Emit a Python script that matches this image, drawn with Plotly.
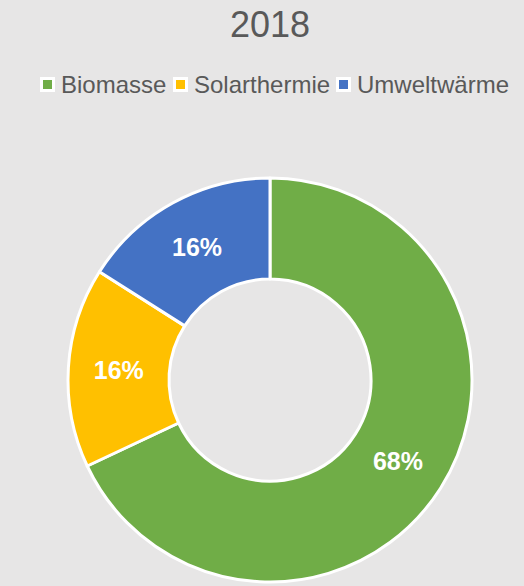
import plotly.graph_objects as go

labels = ["Biomasse", "Solarthermie", "Umweltwärme"]
values = [68, 16, 16]
colors = ["#70AD47", "#FFC000", "#4472C4"]
title_text = "2018"

W, H = 524, 586
cx, cy, r = 270, 380, 202
FONT = "Liberation Sans, Arial, sans-serif"
TXT = "#595959"

fig = go.Figure(go.Pie(
    labels=labels,
    values=values,
    hole=0.5,
    sort=False,
    direction="clockwise",
    rotation=0,
    marker=dict(colors=colors, line=dict(color="white", width=3)),
    textinfo="percent",
    texttemplate="%{percent:.0%}",
    textposition="inside",
    insidetextorientation="horizontal",
    textfont=dict(family=FONT, size=25, color="white", weight="bold"),
    domain=dict(x=[(cx - r) / W, (cx + r) / W], y=[(H - (cy + r)) / H, (H - (cy - r)) / H]),
    showlegend=False,
))

# Manual legend (square marker with white border + label)
legend_marker_x = [40, 173, 336]
legend_y = 84.5
shapes = []
annotations = []
for lab, col, mx in zip(labels, colors, legend_marker_x):
    shapes.append(dict(type="rect", xref="paper", yref="paper",
                       x0=(mx + 1.5) / W, x1=(mx + 13.5) / W,
                       y0=1 - (legend_y + 6) / H, y1=1 - (legend_y - 6) / H,
                       fillcolor=col, line=dict(color="white", width=3)))
    annotations.append(dict(text=lab, xref="paper", yref="paper",
                            x=(mx + 19) / W, y=1 - legend_y / H,
                            xanchor="left", yanchor="middle", showarrow=False,
                            font=dict(family=FONT, size=24, color=TXT)))

fig.update_layout(
    width=W, height=H,
    margin=dict(l=0, r=0, t=0, b=0),
    paper_bgcolor="#E7E6E6",
    plot_bgcolor="#E7E6E6",
    title=dict(text=title_text, x=270 / W, xanchor="center", y=1 - 24 / H, yanchor="middle",
               font=dict(family=FONT, size=36, color=TXT)),
    shapes=shapes,
    annotations=annotations,
    showlegend=False,
)

fig.write_html("out.html", config={"displayModeBar": False},
               post_script="document.body.style.margin='0';")
